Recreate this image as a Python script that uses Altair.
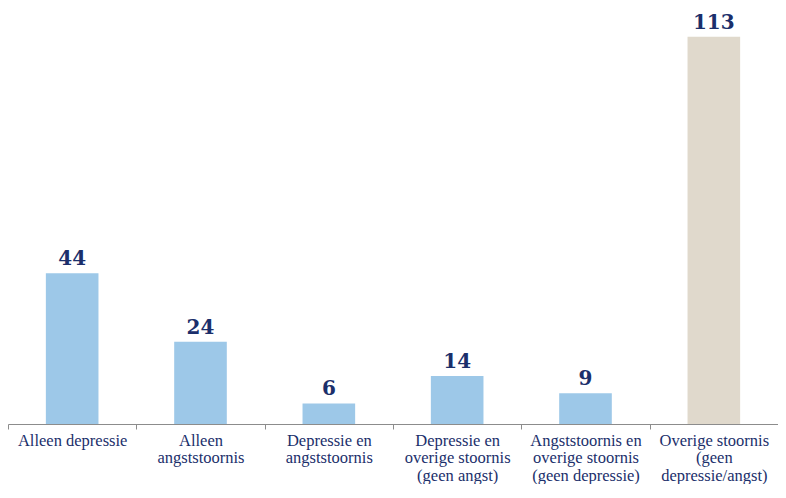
import altair as alt
import pandas as pd

categories = [
    "Alleen depressie",
    "Alleen|angststoornis",
    "Depressie en|angststoornis",
    "Depressie en|overige stoornis|(geen angst)",
    "Angststoornis en|overige stoornis|(geen depressie)",
    "Overige stoornis|(geen|depressie/angst)",
]
values = [44, 24, 6, 14, 9, 113]
groups = ["a", "a", "a", "a", "a", "b"]

df = pd.DataFrame({"cat": categories, "value": values, "group": groups})

FONT = "Liberation Serif"
NAVY = "#1b2f6b"

x = alt.X(
    "cat:N",
    sort=None,
    title=None,
    scale=alt.Scale(paddingInner=0, paddingOuter=0),
    axis=alt.Axis(
        labelAngle=0,
        labelExpr="split(datum.label, '|')",
        labelFont=FONT,
        labelFontSize=16.5,
        labelColor=NAVY,
        labelLineHeight=17.5,
        labelPadding=3,
        labelBaseline="top",
        tickBand="extent",
        tickColor="#8c8c8c",
        tickSize=5,
        domainColor="#8c8c8c",
        labelLimit=200,
    ),
)
y = alt.Y("value:Q", scale=alt.Scale(domain=[0, 121.4], nice=False), axis=None)

bars = alt.Chart(df).mark_bar(width={"band": 0.41}).encode(
    x=x,
    y=y,
    color=alt.Color(
        "group:N",
        scale=alt.Scale(domain=["a", "b"], range=["#9dc8e8", "#e0d9cc"]),
        legend=None,
    ),
)

text = alt.Chart(df).mark_text(
    font="DejaVu Serif", fontSize=20, fontWeight="bold", color=NAVY, dy=-4, baseline="bottom"
).encode(x=x, y=y, text="value:Q")

chart = (bars + text).properties(
    width=770,
    height=416,
    padding={"left": 0, "right": 0, "top": 0, "bottom": 60},
    autosize=alt.AutoSizeParams(type="none"),
).configure_view(stroke=None)

chart.save("out.html", embed_options={"renderer": "svg", "actions": False})
